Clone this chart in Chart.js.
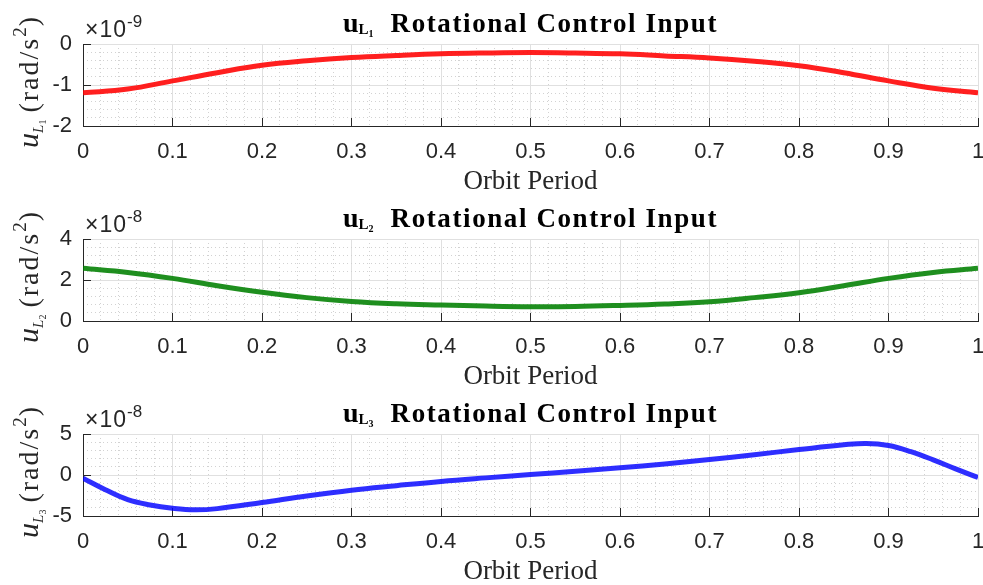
<!DOCTYPE html>
<html>
<head>
<meta charset="utf-8">
<title>Rotational Control Input</title>
<script src="https://cdn.jsdelivr.net/npm/chart.js@4.4.0/dist/chart.umd.min.js"></script>
<style>
  body { margin: 0; background: #fff; }
  .panel { position: absolute; left: 0; width: 983px; height: 195px; }
</style>
</head>
<body>
<div class="panel" style="top:0"><canvas id="c1" width="983" height="195"></canvas></div>
<div class="panel" style="top:195px"><canvas id="c2" width="983" height="195"></canvas></div>
<div class="panel" style="top:390px"><canvas id="c3" width="983" height="195"></canvas></div>

<script>
// orbit period samples (fraction of one orbit)
const period = [0, 0.05, 0.1, 0.15, 0.2, 0.25, 0.3, 0.35, 0.4, 0.45, 0.5,
                0.55, 0.6, 0.65, 0.7, 0.75, 0.8, 0.85, 0.9, 0.95, 1];
const period3 = [0, 0.025, 0.05, 0.075, 0.1, 0.125, 0.15, 0.2, 0.25, 0.3, 0.35, 0.4, 0.45,
                 0.5, 0.55, 0.6, 0.65, 0.7, 0.75, 0.8, 0.85, 0.875, 0.9, 0.925, 0.95, 0.975, 1];

// u_L1 in 1e-9 rad/s^2
const uL1 = [-1.19, -1.10, -0.90, -0.70, -0.52, -0.41, -0.33, -0.28, -0.24, -0.22, -0.21,
             -0.22, -0.24, -0.29, -0.34, -0.42, -0.53, -0.70, -0.90, -1.08, -1.19];
// u_L2 in 1e-8 rad/s^2
const uL2 = [2.57, 2.37, 2.08, 1.72, 1.40, 1.14, 0.95, 0.84, 0.78, 0.73, 0.70,
             0.71, 0.76, 0.83, 0.94, 1.14, 1.38, 1.72, 2.08, 2.37, 2.57];
// u_L3 in 1e-8 rad/s^2
const uL3 = [-0.4, -1.8, -3.0, -3.65, -4.05, -4.25, -4.1, -3.35, -2.55, -1.85, -1.3, -0.78, -0.35,
             0.05, 0.45, 0.88, 1.35, 1.88, 2.48, 3.1, 3.68, 3.85, 3.6, 2.85, 1.85, 0.75, -0.3];

const xTickStep = 0.1;
const xMinorStep = 0.02;

const tickFont = { family: 'Liberation Sans', size: 22 };
const serif = '"Liberation Serif", "Times New Roman", serif';

function partsWidth(ctx, parts) {
  let w = 0;
  parts.forEach(p => {
    ctx.font = p.font;
    ctx.letterSpacing = (p.ls || 0) + 'px';
    w += ctx.measureText(p.text).width + (p.gap || 0);
  });
  return w;
}

function drawParts(ctx, parts, x, y) {
  let cx = x;
  parts.forEach(p => {
    ctx.font = p.font;
    ctx.letterSpacing = (p.ls || 0) + 'px';
    ctx.fillText(p.text, cx, y + (p.dy || 0));
    cx += ctx.measureText(p.text).width + (p.gap || 0);
  });
}

// title, y label and the exponent note, drawn like matlab does
const decor = {
  id: 'decor',
  afterDraw(chart, args, o) {
    const ctx = chart.ctx;
    const a = chart.chartArea;
    ctx.save();
    ctx.textAlign = 'left';
    ctx.textBaseline = 'alphabetic';

    // title
    ctx.fillStyle = '#000';
    const title = [
      { text: 'u', font: 'bold 28px ' + serif },
      { text: 'L', font: 'bold 15px ' + serif, dy: 2 },
      { text: o.idx, font: 'bold 10px ' + serif, dy: 5, gap: 17 },
      { text: 'Rotational Control Input', font: 'bold 27px ' + serif, ls: 1.6 }
    ];
    const tw = partsWidth(ctx, title);
    drawParts(ctx, title, (a.left + a.right) / 2 - tw / 2, a.top - 12);

    // y label (rotated)
    ctx.fillStyle = '#262626';
    const ylab = [
      { text: 'u', font: 'italic 30px ' + serif },
      { text: 'L', font: 'italic 15px ' + serif, dy: 5 },
      { text: o.idx, font: '10px ' + serif, dy: 8, gap: 7 },
      { text: '(rad/s', font: '28px ' + serif, ls: 2 },
      { text: '2', font: '19px ' + serif, dy: -12, ls: 1 },
      { text: ')', font: '28px ' + serif }
    ];
    const yw = partsWidth(ctx, ylab);
    ctx.save();
    ctx.translate(38, a.top + 38.5);
    ctx.rotate(-Math.PI / 2);
    drawParts(ctx, ylab, -yw / 2, 0);
    ctx.restore();

    // exponent
    drawParts(ctx, [
      { text: '\u00d710', font: '23px "Liberation Sans"', ls: 1 },
      { text: '-' + o.exp, font: '17px "Liberation Sans"', dy: -10 }
    ], a.left + 2, a.top - 7);

    ctx.restore();
  }
};

function isMultiple(v, step) {
  const r = v / step;
  return Math.abs(r - Math.round(r)) < 1e-6;
}

function noPad(s) {
  s.paddingLeft = 0;
  s.paddingRight = 0;
  s.paddingTop = 0;
  s.paddingBottom = 0;
}

function makeChart(id, xs, ys, color, yMin, yMax, yStep, idx, exp) {
  const points = xs.map((x, i) => ({ x: x, y: ys[i] }));
  const minorColor = (step) => (c) => isMultiple(c.tick.value, step) ? 'rgba(0,0,0,0)' : '#d2d2d2';

  return new Chart(document.getElementById(id), {
    type: 'line',
    data: {
      datasets: [{
        data: points,
        borderColor: color,
        borderWidth: 5,
        pointRadius: 0,
        fill: false,
        tension: 0.4
      }]
    },
    options: {
      responsive: false,
      animation: false,
      layout: { padding: { top: 44, right: 5, left: 0, bottom: 0 } },
      plugins: {
        legend: { display: false },
        tooltip: { enabled: false },
        decor: { idx: idx, exp: exp }
      },
      scales: {
        x: {
          type: 'linear', position: 'bottom', min: 0, max: 1,
          ticks: {
            stepSize: xTickStep, autoSkip: false, maxRotation: 0, padding: 21,
            color: '#262626', font: tickFont,
            callback: v => String(Math.round(v * 10) / 10)
          },
          grid: { color: '#e0e0e0', tickColor: '#262626', tickLength: -8 },
          border: { color: '#262626' },
          title: { display: true, text: 'Orbit Period', color: '#262626',
                   font: { family: 'Liberation Serif', size: 27, lineHeight: 1 }, padding: { top: 0, bottom: 0 } },
          afterFit: s => { s.height = 69; noPad(s); }
        },
        xm: {
          type: 'linear', position: 'bottom', min: 0, max: 1,
          ticks: { display: false, stepSize: xMinorStep },
          grid: { color: minorColor(xTickStep), drawTicks: false },
          border: { display: false, dash: [1, 3] },
          afterFit: s => { s.height = 0; noPad(s); }
        },
        y: {
          type: 'linear', position: 'left', min: yMin, max: yMax,
          ticks: { stepSize: yStep, padding: 19, color: '#262626', font: tickFont },
          grid: { color: '#e0e0e0', tickColor: '#262626', tickLength: -8 },
          border: { color: '#262626' },
          afterFit: s => { s.width = 83; noPad(s); }
        },
        ym: {
          type: 'linear', position: 'left', min: yMin, max: yMax,
          ticks: { display: false, stepSize: yStep / 5 },
          grid: { color: minorColor(yStep), drawTicks: false },
          border: { display: false, dash: [1, 3] },
          afterFit: s => { s.width = 0; noPad(s); }
        }
      }
    },
    plugins: [decor]
  });
}

makeChart('c1', period, uL1, 'rgba(255,0,0,0.88)', -2, 0, 1, '1', '9');
makeChart('c2', period, uL2, 'rgba(0,128,0,0.88)', 0, 4, 2, '2', '8');
makeChart('c3', period3, uL3, 'rgba(0,0,255,0.82)', -5, 5, 5, '3', '8');
</script>
</body>
</html>
